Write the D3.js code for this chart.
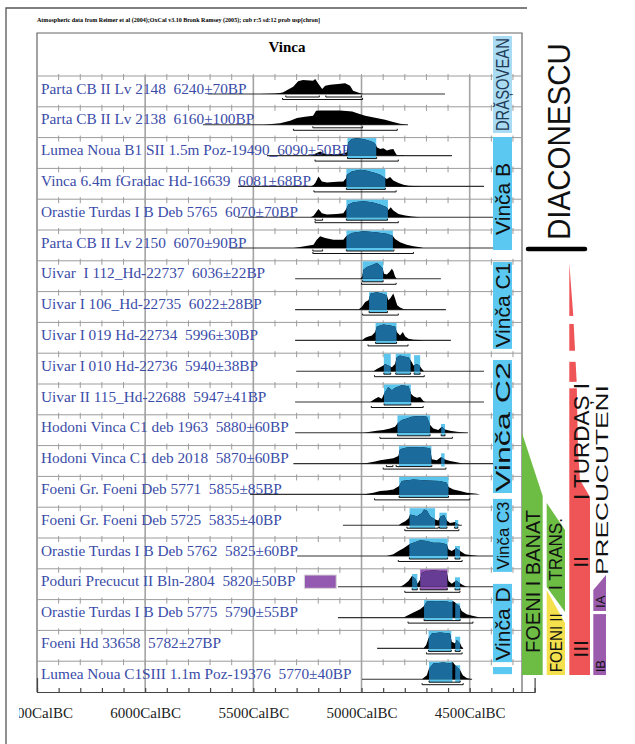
<!DOCTYPE html>
<html>
<head>
<meta charset="utf-8">
<script src="https://cdn.jsdelivr.net/npm/d3@7"></script>
<style>
  body { margin: 0; background: #fff; }
  svg { display: block; }
</style>
</head>
<body>
<svg id="chart"></svg>
<script>
// sample labels, one per row
const labels = [
  'Parta CB II Lv 2148  6240±70BP',
  'Parta CB II Lv 2138  6160±100BP',
  'Lumea Noua B1 SII 1.5m Poz-19490_6090±50BP',
  'Vinca 6.4m fGradac Hd-16639  6081±68BP',
  'Orastie Turdas I B Deb 5765  6070±70BP',
  'Parta CB II Lv 2150  6070±90BP',
  'Uivar  I 112_Hd-22737  6036±22BP',
  'Uivar I 106_Hd-22735  6022±28BP',
  'Uivar I 019 Hd-22734  5996±30BP',
  'Uivar I 010 Hd-22736  5940±38BP',
  'Uivar II 115_Hd-22688  5947±41BP',
  'Hodoni Vinca C1 deb 1963  5880±60BP',
  'Hodoni Vinca C1 deb 2018  5870±60BP',
  'Foeni Gr. Foeni Deb 5771  5855±85BP',
  'Foeni Gr. Foeni Deb 5725  5835±40BP',
  'Orastie Turdas I B Deb 5762  5825±60BP',
  'Poduri Precucut II Bln-2804  5820±50BP',
  'Orastie Turdas I B Deb 5775  5790±55BP',
  'Foeni Hd 33658  5782±27BP',
  'Lumea Noua C1SIII 1.1m Poz-19376  5770±40BP'
];

// extent of the thin line of each row, cal BC
const rangeLines = [
  [5710, 4614], [5733, 4785], [5437, 4582], [5571, 4434], [5571, 4392],
  [5608, 4392], [5307, 4633], [5307, 4610], [5307, 4587], [5302, 4434],
  [5307, 4434], [5307, 4508], [5315, 4392], [5515, 4499], [5086, 4536],
  [5298, 4369], [5109, 4369], [5109, 4369], [4928, 4531], [4998, 4489]
];

// calibrated probability, [year BC, relative probability]
const densities = [
  [[5470,0],[5400,0.6],[5376,1],[5362,1.7],[5316,7.3],[5293,12.7],[5270,14],[5224,13.3],[5214,15],[5201,10.7],[5182,5],[5168,8.3],[5145,9.3],[5108,10],[5076,10.7],[5053,8.3],[5039,3.3],[5006,0.7],[4993,0]],
  [[5455,0],[5440,0.4],[5376,1.5],[5330,4],[5298,6.7],[5261,8],[5224,9],[5210,14],[5191,14.3],[5099,14.3],[5043,13.3],[5016,11.3],[4983,9],[4937,7],[4891,5],[4854,2.7],[4822,1],[4785,0]],
  [[5230,0],[5222,1],[5207,2.7],[5191,4],[5176,2.3],[5160,1.3],[5114,1.7],[5084,2],[5068,3.3],[5063,11.7],[5061,13.3],[5045,16.7],[5022,17.3],[4991,16.7],[4968,15],[4945,13.3],[4933,10.7],[4929,8.3],[4914,6.7],[4899,7.3],[4883,5],[4868,6],[4853,6.7],[4845,3.3],[4837,0.7],[4825,0.3],[4810,0.7],[4800,0]],
  [[5235,0],[5222,1.5],[5214,3.3],[5199,10],[5183,5],[5160,4],[5114,4.7],[5084,5],[5071,8.3],[5068,11.7],[5045,15],[5006,16.7],[4975,15.7],[4937,13.3],[4914,11.7],[4891,8.3],[4883,7.3],[4868,9.3],[4853,6],[4829,3.3],[4806,1.7],[4783,0.7],[4760,0.5],[4721,0]],
  [[5235,0],[5222,1.5],[5210,5],[5199,8.3],[5183,4],[5160,2.7],[5114,3.3],[5084,4],[5071,8.3],[5061,12.7],[5037,15],[4991,16],[4952,15],[4914,12.7],[4883,10],[4876,7.3],[4865,10],[4853,6.7],[4829,3.3],[4798,1.7],[4768,0.7],[4729,0]],
  [[5315,0],[5284,1],[5222,3.3],[5207,8.3],[5191,11.7],[5168,10],[5130,8.3],[5084,8.3],[5071,11.7],[5045,15],[4991,16.7],[4937,15.7],[4883,14.3],[4856,12.3],[4845,9],[4822,5.7],[4791,3.3],[4760,1.7],[4729,0.7],[4714,0]],
  [[5006,0],[4997,2.3],[4991,9],[4975,11.7],[4945,14.3],[4929,15.7],[4914,13.3],[4902,10],[4896,5],[4883,4.3],[4871,6.7],[4860,10],[4853,7.7],[4845,2.3],[4837,0]],
  [[5014,0],[4999,2.7],[4983,7.7],[4968,9.3],[4957,16],[4929,17.3],[4906,16],[4883,14.3],[4876,9.3],[4868,11],[4853,16],[4845,11],[4835,4.3],[4822,2],[4806,0.7],[4794,0]],
  [[4999,0],[4983,2.7],[4968,4],[4952,5],[4937,8.3],[4929,14],[4899,16],[4868,15],[4845,14],[4837,8.3],[4822,5],[4809,8.3],[4798,4],[4783,1.7],[4760,0.7],[4729,0.3],[4714,0]],
  [[4945,0],[4929,2.3],[4914,4],[4899,5.7],[4891,7.3],[4876,5.7],[4860,4],[4845,7.3],[4837,14],[4822,15.7],[4806,14.7],[4783,14],[4767,9],[4760,5.7],[4744,7.3],[4732,5.7],[4721,2.3],[4711,0]],
  [[4960,0],[4937,3.3],[4922,5],[4906,3.3],[4896,8.3],[4876,15],[4860,11.7],[4845,14.3],[4814,16.7],[4783,15.7],[4771,8.3],[4760,5.7],[4744,4.3],[4729,5],[4714,1],[4706,0]],
  [[4991,0],[4960,1],[4929,2],[4899,2.7],[4868,4.3],[4845,6],[4834,9.3],[4814,12.7],[4791,14.3],[4768,16],[4729,16.7],[4698,16],[4683,7.7],[4668,4.3],[4645,2.7],[4629,6],[4614,3.3],[4591,2],[4560,1],[4514,0]],
  [[5006,0],[4975,0.7],[4937,2],[4914,3.3],[4883,4.3],[4853,5.3],[4830,7.7],[4822,14.3],[4791,16],[4729,16.7],[4683,15.3],[4675,4.3],[4652,3.3],[4632,6.7],[4617,4.3],[4591,2.7],[4560,1.3],[4532,0]],
  [[4991,0],[4945,1.7],[4914,3.3],[4883,4],[4853,5],[4826,8.3],[4814,13.3],[4760,15],[4698,14],[4637,13.3],[4606,11.7],[4598,7.3],[4575,5],[4544,3.3],[4513,1.7],[4467,0.7],[4452,0]],
  [[4829,0],[4814,2.3],[4798,4],[4783,6.7],[4775,10.7],[4744,9],[4721,12.3],[4711,15.7],[4698,14.7],[4683,9],[4660,5.7],[4645,4.7],[4634,9],[4618,10],[4606,4.7],[4591,2.3],[4568,3.3],[4557,1.3],[4544,0]],
  [[4883,0],[4853,1.7],[4829,5],[4806,7.7],[4779,11.7],[4760,13.3],[4729,15.7],[4698,15],[4668,13.3],[4637,13.3],[4606,11.7],[4598,6.7],[4583,5],[4563,7.7],[4544,5],[4521,1.7],[4490,0.7],[4460,0]],
  [[4822,0],[4806,1.7],[4783,5.7],[4767,10.7],[4752,8.3],[4741,3],[4729,7.3],[4721,14],[4698,15.7],[4668,16.3],[4637,15.7],[4606,15],[4598,5.7],[4583,3],[4563,6.3],[4548,4],[4532,1.7],[4514,0]],
  [[4806,0],[4783,2.7],[4760,5],[4729,8.3],[4711,11.7],[4698,16],[4652,16.7],[4606,16],[4583,15],[4578,16.7],[4567,15],[4560,13.3],[4548,11.7],[4537,6.7],[4514,3.3],[4483,1.7],[4452,0]],
  [[4714,0],[4701,3.3],[4691,10],[4675,15],[4637,16],[4591,15],[4583,6.7],[4567,5],[4560,8.3],[4544,5],[4537,1.7],[4529,0]],
  [[4721,0],[4698,4],[4688,10.7],[4668,15.7],[4622,16.7],[4587,15.7],[4578,17.3],[4567,14],[4544,9],[4532,4],[4514,1.3],[4490,0]]
];

// highlighted intervals, [from BC, to BC, top, culture]
const highlights = [
  [], [],
  [[5065, 4932, 17.5, 'V']],
  [[5070, 4890, 17.5, 'V']],
  [[5070, 4878, 17.5, 'V']],
  [[5070, 4855, 17.5, 'V']],
  [[4995, 4900, 17.5, 'V']],
  [[4965, 4882, 17.5, 'V']],
  [[4935, 4838, 17.5, 'V']],
  [[4897, 4865, 17.5, 'V'], [4842, 4773, 17.5, 'V'], [4757, 4729, 16, 'V']],
  [[4896, 4772, 17.5, 'V']],
  [[4834, 4683, 17.5, 'V'], [4632, 4614, 8.8, 'V']],
  [[4827, 4677, 17.5, 'V'], [4632, 4616, 10.3, 'V']],
  [[4826, 4598, 17.5, 'V']],
  [[4778, 4660, 17, 'V'], [4640, 4606, 12.5, 'V'], [4568, 4553, 5.2, 'V']],
  [[4779, 4602, 17.5, 'V'], [4568, 4545, 10, 'V']],
  [[4766, 4742, 12.8, 'V'], [4729, 4603, 17.5, 'P'], [4568, 4545, 9.5, 'V']],
  [[4711, 4579, 17.5, 'V'], [4567, 4544, 14.3, 'V']],
  [[4690, 4585, 17.5, 'V'], [4567, 4544, 11.7, 'V']],
  [[4688, 4580, 17.5, 'V'], [4567, 4544, 14, 'V']]
];

// 68.2% and 95.4% ranges
const sigma1 = [
  [[5350,5195],[5165,5000]], [[5225,4995]], [[5065,4930]], [[5070,4890]],
  [[5215,5180],[5070,4880]], [[5225,5180],[5070,4850]], [[4995,4900]], [[4965,4880]],
  [[4935,4838]], [[4897,4865],[4842,4773],[4757,4729]], [[4896,4772]],
  [[4834,4683],[4632,4614]], [[4885,4855],[4840,4675]], [[4826,4598]],
  [[4790,4645],[4640,4605],[4570,4555]], [[4779,4602],[4568,4545]],
  [[4766,4742],[4729,4603],[4568,4545]], [[4711,4544]], [[4690,4585],[4567,4544]], [[4688,4544]]
];
const sigma2 = [
  [5365,4995], [5315,4835], [5215,4830], [5220,4840], [5215,4830],
  [5225,4760], [5000,4840], [4995,4830], [4970,4785], [4940,4710],
  [4955,4715], [4915,4580], [4900,4610], [4940,4500], [4800,4550],
  [4830,4535], [4800,4545], [4785,4485], [4700,4535], [4720,4530]
];

// stray Precucuteni marker on the Poduri row
const poduriMarker = [5264, 5117, 11.8];

// phase column, in row units
const phaseNames = ['DRĂȘOVEAN', 'Vinča B', 'Vinča C1', 'Vinča C2', 'Vinča C3', 'Vinča D', ''];
const phaseStart = [-1.30, 1.98, 6.04, 9.22, 13.73, 16.49, 19.19];
const phaseEnd = [1.85, 5.65, 8.86, 13.54, 16.10, 19.03, 19.42];
const phaseLabelMid = [0.28, 3.99, 7.44, 11.40, 14.92, 17.79, 19.3];

const axisYears = [6500, 6000, 5500, 5000, 4500];
const gridYears = [6000, 5500, 5000, 4500];

const width = 635;
const height = 744;
const plotLeft = 37;
const plotRight = 522;
const plotTop = 33;
const headerBottom = 76;
const axisY = 692;
const baseOff = 18;
const serif = "'Liberation Serif', 'Times New Roman', serif";
const sans = "'Liberation Sans', Arial, sans-serif";

const x = d3.scaleLinear().domain([6500, 4200]).range([plotLeft, 534.6]);
const rowY = d3.scaleLinear().domain([0, labels.length]).range([headerBottom, axisY]);
const prob = d3.scaleLinear().domain([0, 20]).range([0, 20]);

const svg = d3.select('#chart')
    .attr('width', width)
    .attr('height', height);

const defs = svg.append('defs');
defs.append('clipPath').attr('id', 'axisClip')
    .append('rect').attr('x', 19).attr('y', -10).attr('width', 600).attr('height', 60);

// outer frame of the pasted plot
svg.append('path')
    .attr('d', `M6,${height} V8 H527`)
    .attr('fill', 'none')
    .attr('stroke', '#555')
    .attr('stroke-width', 1.3);

svg.append('text')
    .attr('x', plotLeft)
    .attr('y', 22)
    .attr('font-family', serif)
    .attr('font-size', 6.5)
    .attr('font-weight', 'bold')
    .attr('textLength', 283)
    .attr('lengthAdjust', 'spacingAndGlyphs')
    .text('Atmospheric data from Reimer et al (2004);OxCal v3.10 Bronk Ramsey (2005); cub r:5 sd:12 prob usp[chron]');

// plot frame
svg.append('path')
    .attr('d', `M${plotLeft},${axisY} V${plotTop} H${plotRight} V${axisY}`)
    .attr('fill', 'none')
    .attr('stroke', '#666')
    .attr('stroke-width', 1.2);

svg.append('text')
    .attr('x', 287)
    .attr('y', 52)
    .attr('text-anchor', 'middle')
    .attr('font-family', serif)
    .attr('font-size', 15)
    .attr('font-weight', 'bold')
    .text('Vinca');

// row separators with 100 year ticks
const minorYears = d3.range(6400, 4250, -100);
const sep = svg.append('g').attr('stroke', '#9c9c9c').attr('stroke-width', 1);
labels.forEach((l, i) => {
    const yy = rowY(i);
    sep.append('line').attr('x1', plotLeft).attr('x2', plotRight).attr('y1', yy).attr('y2', yy);
    sep.selectAll(null).data(minorYears).enter().append('line')
        .attr('x1', d => x(d)).attr('x2', d => x(d))
        .attr('y1', yy - 2).attr('y2', yy + 4);
});

svg.append('g').selectAll('line').data(gridYears).enter().append('line')
    .attr('x1', d => x(d)).attr('x2', d => x(d))
    .attr('y1', headerBottom).attr('y2', axisY)
    .attr('stroke', '#a4a4a4')
    .attr('stroke-width', 1.6);

// axis
const axisG = svg.append('g').attr('transform', `translate(0,${axisY})`);
axisG.call(d3.axisBottom(x).tickValues(d3.range(6500, 4150, -100))
    .tickSizeInner(-4).tickSizeOuter(-14).tickFormat(''));
axisG.selectAll('path, line').attr('stroke', '#444').attr('stroke-width', 1.2);

const labelAxis = svg.append('g')
    .attr('transform', `translate(0,${axisY})`)
    .attr('clip-path', 'url(#axisClip)');
labelAxis.call(d3.axisBottom(x).tickValues(axisYears).tickSize(0).tickPadding(15)
    .tickFormat(d => d + 'CalBC'));
labelAxis.select('.domain').remove();
labelAxis.selectAll('text')
    .attr('font-family', serif)
    .attr('font-size', 15)
    .attr('fill', '#222');

// rows
const area = d3.area()
    .x(d => x(d[0]))
    .y0(0)
    .y1(d => -prob(d[1]));

const boxLight = { V: '#5cc5ee', P: '#9258b4' };
const boxDark = { V: '#1b6b9d', P: '#673c94' };

labels.forEach((label, i) => {
    const top = rowY(i);
    const g = svg.append('g').attr('transform', `translate(0,${top + baseOff})`);

    g.append('line')
        .attr('x1', x(rangeLines[i][0])).attr('x2', x(rangeLines[i][1]))
        .attr('y1', 0).attr('y2', 0)
        .attr('stroke', '#333')
        .attr('stroke-width', 1.1);

    const boxes = highlights[i];
    boxes.forEach(b => {
        g.append('rect')
            .attr('x', x(b[0])).attr('width', x(b[1]) - x(b[0]))
            .attr('y', -prob(b[2])).attr('height', prob(b[2]) + 3)
            .attr('fill', boxLight[b[3]]);
    });

    g.append('path').datum(densities[i]).attr('d', area).attr('fill', '#000');

    boxes.forEach((b, j) => {
        const id = `clip-${i}-${j}`;
        defs.append('clipPath').attr('id', id).append('rect')
            .attr('x', x(b[0])).attr('width', x(b[1]) - x(b[0]))
            .attr('y', -prob(b[2])).attr('height', prob(b[2]) + 3);
        g.append('path').datum(densities[i]).attr('d', area)
            .attr('fill', boxDark[b[3]])
            .attr('clip-path', `url(#${id})`);
    });

    sigma1[i].forEach(s => {
        g.append('path')
            .attr('d', `M${x(s[0])},1.5 V3 H${x(s[1])} V1.5`)
            .attr('fill', 'none').attr('stroke', '#111').attr('stroke-width', 1);
    });
    const s2 = sigma2[i];
    g.append('path')
        .attr('d', `M${x(s2[0])},4 V5.5 H${x(s2[1])} V4`)
        .attr('fill', 'none').attr('stroke', '#111').attr('stroke-width', 1);

    if (i === 16) {
        g.append('rect')
            .attr('x', x(poduriMarker[0])).attr('width', x(poduriMarker[1]) - x(poduriMarker[0]))
            .attr('y', -prob(poduriMarker[2])).attr('height', prob(poduriMarker[2]) + 1.5)
            .attr('fill', '#9459b0')
            .attr('stroke', '#d6d6d6');
    }

    svg.append('text')
        .attr('x', 41)
        .attr('y', top + 17.5)
        .attr('font-family', serif)
        .attr('font-size', 15.3)
        .attr('fill', '#3a4ca8')
        .style('white-space', 'pre')
        .text(label);
});

// vertical text helper
function vText(str, cx, cy, size, len) {
    const t = svg.append('text')
        .attr('transform', `translate(${cx},${cy}) rotate(-90)`)
        .attr('text-anchor', 'middle')
        .attr('dy', '0.36em')
        .attr('font-family', sans)
        .attr('font-size', size)
        .attr('fill', '#111')
        .text(str);
    if (len) t.attr('textLength', len).attr('lengthAdjust', 'spacingAndGlyphs');
    return t;
}

// phase column
const phaseSizes = [18, 21, 21, 21, 17, 21, 0];
const phaseLens = [93, 0, 0, 130, 68, 0, 0];
phaseNames.forEach((name, i) => {
    svg.append('rect')
        .attr('x', 493).attr('width', 19)
        .attr('y', rowY(phaseStart[i]))
        .attr('height', rowY(phaseEnd[i]) - rowY(phaseStart[i]))
        .attr('fill', i === 0 ? '#a9dcf3' : '#5ac8f0');
    if (name) vText(name, 502.5, rowY(phaseLabelMid[i]), phaseSizes[i], phaseLens[i])
        .attr('fill', i === 0 ? '#1f3a55' : '#111');
});

// cultures on the right
const poly = pts => 'M' + pts.map(p => `${p[0]},${rowY(p[1])}`).join('L') + 'Z';

vText('DIACONESCU', 558.5, rowY(2.13), 32, 197);
svg.append('line')
    .attr('x1', 528).attr('x2', 585)
    .attr('y1', rowY(5.62)).attr('y2', rowY(5.62))
    .attr('stroke', '#000').attr('stroke-width', 4.5).attr('stroke-linecap', 'round');

svg.append('path')
    .attr('d', poly([[569.3,6.07],[573.3,7.79],[575,8.9],[576.7,9.94],[578,12.14],[580,13.12],[590,13.67],[590,19.45],[569.3,19.45]]))
    .attr('fill', '#ef5456');
[[7.79, 8.05], [8.92, 9.28], [9.93, 10.14]].forEach(gp => {
    svg.append('rect')
        .attr('x', 565).attr('width', 30)
        .attr('y', rowY(gp[0])).attr('height', rowY(gp[1]) - rowY(gp[0]))
        .attr('fill', '#fff');
});
vText('I TURDAȘ I', 581, rowY(11.87), 22, 117);
vText('II', 580.5, rowY(15.78), 21);
vText('III', 580.5, rowY(18.6), 21);

svg.append('path')
    .attr('d', poly([[522,11.59],[542.7,13.64],[542.7,19.45],[522,19.45]]))
    .attr('fill', '#6dbd45');
vText('FOENI I BANAT', 532.5, rowY(16.41), 21, 143);

svg.append('path')
    .attr('d', poly([[546.7,13.86],[565,14.74],[565,17.4],[546.7,16.59]]))
    .attr('fill', '#6dbd45');
vText('I TRANS.', 556, rowY(15.52), 18, 72);

svg.append('path')
    .attr('d', poly([[546.7,16.69],[565,17.76],[565,19.45],[546.7,19.45]]))
    .attr('fill', '#f4e04d');
vText('FOENI II', 556, rowY(18.4), 17, 59);

svg.append('path')
    .attr('d', poly([[593.3,16.69],[606,16.2],[606,17.37],[593.3,17.37]]))
    .attr('fill', '#9b5cae');
svg.append('path')
    .attr('d', poly([[593.3,17.47],[606,17.47],[606,19.45],[593.3,19.45]]))
    .attr('fill', '#9b5cae');
vText('IA', 600, rowY(17.07), 13);
vText('IB', 600, rowY(19.16), 13);
vText('PRECUCUTENI', 602, rowY(13.12), 17, 190);
</script>
</body>
</html>
